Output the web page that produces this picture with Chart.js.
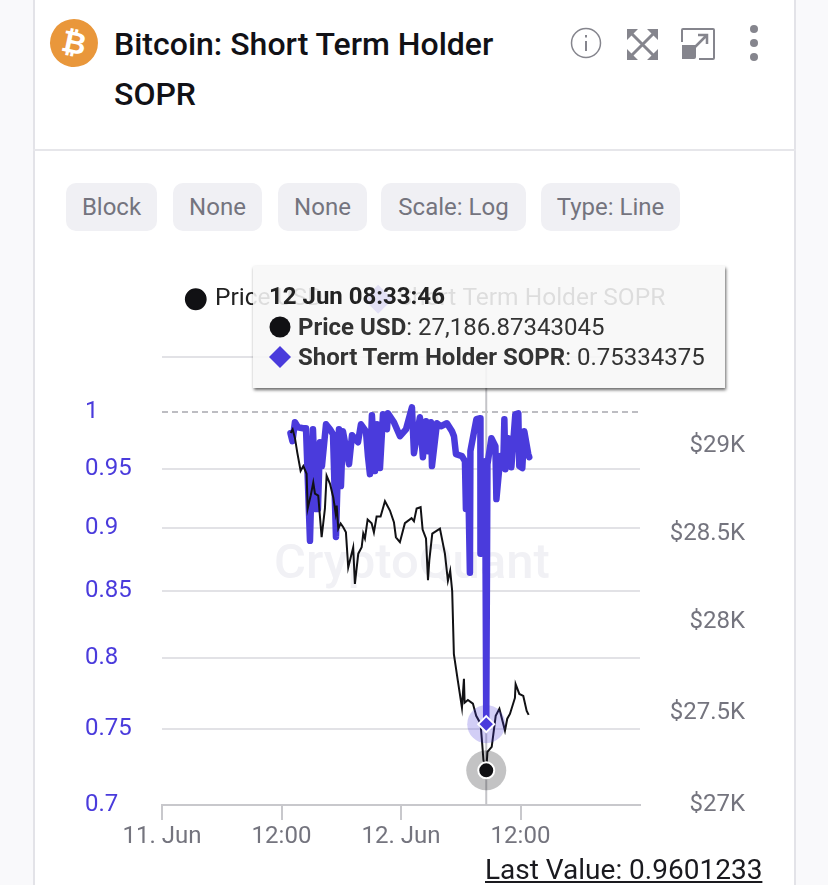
<!DOCTYPE html>
<html>
<head>
<meta charset="utf-8">
<script src="https://cdn.jsdelivr.net/npm/chart.js@4"></script>
<style>
  html, body { margin: 0; padding: 0; width: 828px; height: 885px; overflow: hidden; background: #f9f9fb; font-family: Roboto, sans-serif; }
  .card { position: absolute; left: 33px; top: -2px; width: 759px; height: 900px; background: #fff; border: 1px solid #e3e3e8; border-width: 0 2px; }
  .divider { position: absolute; left: 33px; top: 149px; width: 763px; height: 2px; background: #e6e6ea; }
  .coin { position: absolute; left: 50px; top: 19px; width: 48px; height: 48px; border-radius: 50%; background: #e9973b; color: #fff; font: 700 30px/48px "DejaVu Sans", sans-serif; text-align: center; transform: rotate(12deg); }
  .title { position: absolute; left: 114px; top: 19px; width: 420px; font: 500 32px/50px Roboto, sans-serif; color: #111116; }
  .icons { position: absolute; left: 565px; top: 20px; }
  .btn { position: absolute; top: 183px; height: 48px; line-height: 48px; background: #f0f0f4; border-radius: 10px; color: #74747e; font-size: 24px; text-align: center; }
  .mark { position: absolute; left: 274px; top: 530px; font: 500 49px/64px Roboto, sans-serif; color: #f1f1f5; }
  canvas { position: absolute; left: 54px; top: 239px; }
  .tip { position: absolute; left: 253px; top: 266px; width: 472px; height: 122px; background: rgba(247,247,247,0.88); box-shadow: 1px 2px 3px rgba(0,0,0,0.6); font-size: 24px; color: #333; }
  .tip div { position: absolute; white-space: nowrap; }
  .tip svg { position: absolute; }
  .last { position: absolute; left: 485px; top: 853px; font-size: 28px; line-height: 34px; color: #1a1a1f; text-decoration: underline; }
</style>
</head>
<body>
<div class="card"></div>
<div class="divider"></div>
<div class="coin">₿</div>
<div class="title">Bitcoin: Short Term Holder<br>SOPR</div>
<svg class="icons" width="210" height="50" viewBox="0 0 210 50" fill="none">
  <circle cx="21" cy="23" r="14.5" stroke="#85858d" stroke-width="1.5"/>
  <rect x="20" y="21" width="2" height="10" fill="#85858d"/><rect x="20" y="15" width="2" height="2.5" fill="#85858d"/>
  <g stroke="#85858d" stroke-width="3">
    <path d="M65 12 L90 37 M90 12 L65 37"/>
  </g>
  <g fill="#85858d">
    <path d="M62 9 H73 L62 20 Z M93 9 H82 L93 20 Z M62 40 H73 L62 29 Z M93 40 H82 L93 29 Z"/>
    <path d="M117 25 H131 V37 Q131 39 129 39 H117 Z"/>
    <circle cx="189" cy="9" r="4"/><circle cx="189" cy="23" r="4"/><circle cx="189" cy="37" r="4"/>
  </g>
  <path d="M117 22 V10 Q117 9 118 9 H148 Q149 9 149 10 V38 Q149 39 148 39 H134" stroke="#85858d" stroke-width="2"/>
  <path d="M130 27 L142 15 M133 15 H142 V24" stroke="#85858d" stroke-width="2.5"/>
</svg>
<div class="btn" style="left:66px;width:91px">Block</div>
<div class="btn" style="left:173px;width:89px">None</div>
<div class="btn" style="left:278px;width:89px">None</div>
<div class="btn" style="left:381px;width:145px">Scale: Log</div>
<div class="btn" style="left:541px;width:139px">Type: Line</div>
<div class="mark">CryptoQuant</div>
<canvas id="myChart" width="746" height="616"></canvas>
<div class="tip">
  <div id="tipTime" style="left:16px;top:16px;font-weight:700;color:#222"></div>
  <svg width="22" height="22" style="left:16px;top:50px"><circle cx="11" cy="11" r="10.5" fill="#111114"/></svg>
  <div id="tipPrice" style="left:45px;top:47px"></div>
  <svg width="24" height="24" style="left:15px;top:79px"><path d="M12 1 L23 12 L12 23 L1 12 Z" fill="#4a3bdc"/></svg>
  <div id="tipSopr" style="left:45px;top:77px"></div>
</div>
<div class="last">Last Value: 0.9601233</div>

<script>
// hours since 11 Jun 00:00
const priceHours = [
  12.92, 13.12, 13.35, 13.59, 13.92, 14.19, 14.52, 14.63, 14.93, 15.19,
  15.36, 15.69, 16.03, 16.36, 16.53, 16.87, 17.2, 17.44, 17.54, 17.7,
  17.94, 18.2, 18.47, 18.7, 19.2, 19.37, 19.71, 20.05, 20.21, 20.38,
  20.65, 21.05, 21.28, 21.55, 21.95, 22.39, 22.89, 23.29, 23.49, 23.89,
  24.39, 25.06, 25.3, 25.57, 25.97, 26.17, 26.51, 26.71, 26.84, 27.14,
  27.91, 28.41, 28.71, 28.94, 29.14, 29.31, 29.71, 30.12, 30.32, 30.39,
  30.72, 31.22, 31.55, 31.99, 32.15, 32.28, 32.56, 32.68, 33.11, 33.51,
  33.88, 34.44, 34.67, 34.94, 35.44, 35.51, 35.88, 36.28, 36.62, 36.82
];
const priceUsd = [
  29076, 29097, 29047, 28962, 28858, 28886, 28841, 28642, 28716, 28791,
  28727, 28716, 28479, 28642, 28830, 28784, 28706, 28614, 28659, 28528,
  28557, 28536, 28507, 28308, 28422, 28216, 28386, 28422, 28500, 28472,
  28580, 28559, 28507, 28597, 28597, 28684, 28631, 28565, 28479, 28451,
  28559, 28587, 28570, 28642, 28650, 28523, 28472, 28237, 28347, 28500,
  28528, 28386, 28233, 28290, 28176, 27824, 27676, 27529, 27687, 27556,
  27571, 27551, 27484, 27441, 27334, 27242, 27186.87343045, 27287, 27314, 27484,
  27522, 27403, 27468, 27494, 27582, 27658, 27604, 27593, 27511, 27489
];
const soprHours = [
  12.9, 13.1, 13.35, 13.65, 14.16, 14.46, 14.86, 15.16, 15.46, 15.66,
  15.86, 16.06, 16.47, 16.87, 17.17, 17.47, 17.77, 17.97, 18.17, 18.78,
  19.08, 19.68, 19.98, 20.48, 20.68, 20.88, 21.08, 21.39, 21.59, 21.89,
  22.19, 22.59, 22.69, 23.29, 23.9, 24.5, 25.1, 25.3, 25.9, 26.2,
  26.51, 26.71, 27.01, 27.11, 27.61, 28.01, 28.61, 29.12, 29.32, 29.52,
  30.12, 30.42, 30.52, 30.72, 30.92, 30.97, 31.57, 31.97, 31.98, 32.45, 32.56,
  32.68, 33.08, 33.48, 33.58, 33.98, 34.28, 34.38, 34.48, 34.78, 35.08,
  35.48, 35.78, 35.88, 36.18, 36.38, 36.78, 36.88
];
const soprValues = [
  0.9812, 0.9741, 0.991, 0.9865, 0.9856, 0.9856, 0.8898, 0.9847, 0.9159, 0.9159,
  0.9732, 0.9523, 0.9892, 0.9847, 0.9803, 0.893, 0.9847, 0.9352, 0.9829, 0.954,
  0.9794, 0.9732, 0.9892, 0.9829, 0.961, 0.9454, 0.9973, 0.948, 0.9892, 0.9506,
  0.9982, 0.9847, 0.9991, 0.991, 0.9785, 0.9847, 1.0045, 0.9636, 0.9955, 0.9601,
  0.9919, 0.9653, 0.991, 0.9523, 0.9901, 0.9874, 0.9901, 0.9829, 0.9785, 0.9627,
  0.961, 0.9566, 0.9159, 0.9549, 0.8644, 0.9653, 0.9937, 0.9946, 0.8794, 0.9566, 0.75334375,
  0.954, 0.9768, 0.9697, 0.9242, 0.961, 0.9575, 0.9937, 0.9497, 0.9768, 0.9514,
  0.9982, 0.9991, 0.9523, 0.9506, 0.9829, 0.9627, 0.9601
];

const xTickHours = [0, 12, 24, 36];
const xTickLabels = ["11. Jun", "12:00", "12. Jun", "12:00"];
const soprTicks = [0.7, 0.75, 0.8, 0.85, 0.9, 0.95, 1, 1.052];
const priceTicks = [27000, 27500, 28000, 28500, 29000];
const hoverHour = 32.56;
const hoverTime = "12 Jun 08:33:46";

const purple = "#4a3bdc";
const toPoints = (hours, values) => hours.map((h, i) => ({ x: h, y: values[i] }));
const priceIndex = priceHours.indexOf(hoverHour);
const soprIndex = soprHours.indexOf(hoverHour);

document.querySelector("#tipTime").textContent = hoverTime;
document.querySelector("#tipPrice").innerHTML =
  "<b>Price USD</b>: " + priceUsd[priceIndex].toLocaleString("en-US", { maximumFractionDigits: 8 });
document.querySelector("#tipSopr").innerHTML =
  "<b>Short Term Holder SOPR</b>: " + soprValues[soprIndex];

// more room under the legend, and legend a bit to the right
const legendGap = {
  id: "legendGap",
  beforeInit(chart) {
    const legend = chart.legend;
    const fit = legend.fit;
    const draw = legend.draw;
    legend.fit = function () {
      fit.call(this);
      this.height += 35;
    };
    legend.draw = function () {
      chart.ctx.save();
      chart.ctx.translate(12, 0);
      draw.call(this);
      chart.ctx.restore();
    };
  },
};

// crosshair and the two hovered markers
const hoverMarkers = {
  id: "hoverMarkers",
  beforeDatasetsDraw(chart) {
    const { ctx, scales } = chart;
    const x = scales.x.getPixelForValue(hoverHour);
    ctx.save();
    ctx.strokeStyle = "#c4c4c8";
    ctx.lineWidth = 2;
    ctx.beginPath();
    ctx.moveTo(x, chart.chartArea.top);
    ctx.lineTo(x, chart.chartArea.bottom);
    ctx.stroke();
    ctx.restore();
  },
  afterDatasetsDraw(chart) {
    const { ctx, scales } = chart;
    const x = scales.x.getPixelForValue(hoverHour);
    const py = scales.yPrice.getPixelForValue(priceUsd[priceIndex]);
    const sy = scales.ySopr.getPixelForValue(soprValues[soprIndex]);
    ctx.save();
    ctx.fillStyle = "rgba(74,59,220,0.25)";
    ctx.beginPath();
    ctx.arc(x, sy, 19, 0, Math.PI * 2);
    ctx.fill();
    ctx.fillStyle = "rgba(17,17,20,0.25)";
    ctx.beginPath();
    ctx.arc(x, py, 20, 0, Math.PI * 2);
    ctx.fill();
    ctx.strokeStyle = "#fff";
    ctx.lineWidth = 2;
    ctx.fillStyle = "#111114";
    ctx.beginPath();
    ctx.arc(x, py, 8, 0, Math.PI * 2);
    ctx.fill();
    ctx.stroke();
    ctx.fillStyle = purple;
    ctx.beginPath();
    ctx.moveTo(x, sy - 8);
    ctx.lineTo(x + 8, sy);
    ctx.lineTo(x, sy + 8);
    ctx.lineTo(x - 8, sy);
    ctx.closePath();
    ctx.fill();
    ctx.stroke();
    ctx.restore();
  },
};

new Chart(document.querySelector("#myChart"), {
  type: "line",
  plugins: [legendGap, hoverMarkers],
  data: {
    datasets: [
      {
        label: "Price USD",
        data: toPoints(priceHours, priceUsd),
        yAxisID: "yPrice",
        borderColor: "#111114",
        borderWidth: 2,
        pointRadius: 0,
        pointStyle: "circle",
        pointBackgroundColor: "#111114",
        pointBorderColor: "#111114",
      },
      {
        label: "Short Term Holder SOPR",
        data: toPoints(soprHours, soprValues),
        yAxisID: "ySopr",
        borderColor: purple,
        borderWidth: 6.5,
        borderJoinStyle: "round",
        borderCapStyle: "round",
        pointRadius: 0,
        pointStyle: "rectRot",
        pointBackgroundColor: purple,
        pointBorderColor: purple,
      },
    ],
  },
  options: {
    responsive: false,
    animation: false,
    events: [],
    layout: { padding: { left: 31, right: 55 } },
    plugins: {
      tooltip: { enabled: false },
      legend: {
        labels: {
          usePointStyle: true,
          boxWidth: 14,
          boxHeight: 14,
          padding: 48,
          color: "#222",
          font: { family: "Roboto", size: 24.5 },
        },
      },
    },
    scales: {
      x: {
        type: "linear",
        min: 0,
        max: 48,
        afterFit: (scale) => { scale.height = 50; },
        afterBuildTicks: (scale) => { scale.ticks = xTickHours.map((value) => ({ value })); },
        grid: { drawOnChartArea: false, tickLength: 15, color: "#c8c8cc", lineWidth: 2 },
        border: { color: "#c8c8cc", width: 2 },
        ticks: {
          autoSkip: false,
          maxRotation: 0,
          padding: 3,
          color: "#74747e",
          font: { family: "Roboto", size: 24 },
          callback: (value) => xTickLabels[xTickHours.indexOf(value)],
        },
      },
      ySopr: {
        type: "logarithmic",
        position: "left",
        min: 0.7,
        max: 1.052,
        afterFit: (scale) => { scale.width = 77; },
        afterBuildTicks: (scale) => { scale.ticks = soprTicks.map((value) => ({ value })); },
        grid: {
          tickLength: 0,
          lineWidth: 2,
          color: (c) => (c.tick && c.tick.value === 1 ? "#bdbdc2" : "#e2e2e6"),
        },
        border: {
          display: false,
          dash: (c) => (c.tick && c.tick.value === 1 ? [6, 4] : []),
        },
        ticks: {
          crossAlign: "far",
          color: purple,
          font: { family: "Roboto", size: 24 },
          callback: (value) => (value > 1 ? "" : String(value)),
        },
      },
      yPrice: {
        type: "logarithmic",
        position: "right",
        min: 27000,
        max: 29523,
        afterFit: (scale) => { scale.width = 105; },
        afterBuildTicks: (scale) => { scale.ticks = priceTicks.map((value) => ({ value })); },
        grid: { display: false },
        border: { display: false },
        ticks: {
          crossAlign: "far",
          color: "#74747e",
          font: { family: "Roboto", size: 24 },
          callback: (value) => "$" + value / 1000 + "K",
        },
      },
    },
  },
});
</script>
</body>
</html>
